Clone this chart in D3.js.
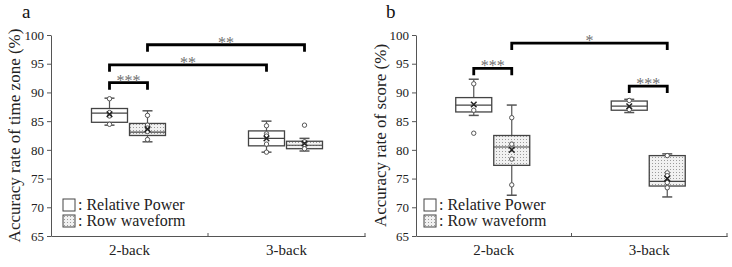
<!DOCTYPE html>
<html>
<head>
<meta charset="utf-8">
<script src="https://cdn.jsdelivr.net/npm/d3@7/dist/d3.min.js"></script>
<style>
  body { margin: 0; background: #fff; }
  svg { display: block; font-family: "Liberation Serif", "DejaVu Serif", serif; }
</style>
</head>
<body>
<div id="chart"></div>
<script>
// categories & groups (order: 2-back RP, 2-back RW, 3-back RP, 3-back RW)
const categories = ["2-back", "3-back"];
const methods = ["Relative Power", "Row waveform"];

// [whisker low, Q1, median, Q3, whisker high]
const timeZoneBoxes = [
    [84.3, 84.8, 86.4, 87.2, 89.0],
    [81.4, 82.5, 83.1, 84.6, 86.8],
    [79.6, 80.7, 82.0, 83.3, 85.0],
    [79.8, 80.2, 80.8, 81.5, 82.0]
];
const timeZoneMeans = [86.2, 83.6, 82.0, 81.1];
const timeZonePoints = [
    [88.9, 86.5, 85.9, 84.45],
    [86.0, 84.3, 83.8, 83.2, 81.8],
    [84.2, 82.8, 82.4, 81.0, 79.6],
    [84.3, 81.4, 80.9, 80.2]
];
// [from group, to group, bracket level, label]
const timeZoneSig = [[0, 1, 91.7, "***"], [0, 2, 94.8, "**"], [1, 3, 98.3, "**"]];

const scoreBoxes = [
    [86.0, 86.6, 87.8, 89.1, 92.3],
    [72.1, 77.3, 80.5, 82.5, 87.8],
    [86.5, 86.9, 87.6, 88.5, 88.8],
    [71.8, 73.7, 74.5, 79.0, 79.3]
];
const scoreMeans = [87.9, 80.0, 87.6, 75.0];
const scorePoints = [
    [91.5, 86.9, 82.9],
    [85.6, 81.0, 78.4, 73.9],
    [88.6, 87.0],
    [79.0, 76.0, 75.5, 74.3, 73.4]
];
const scoreSig = [[0, 1, 94.2, "***"], [1, 3, 98.6, "*"], [2, 3, 91.1, "***"]];

const yTicks = [65, 70, 75, 80, 85, 90, 95, 100];

const width = 732, height = 267;
const svg = d3.select("#chart").append("svg")
    .attr("width", width)
    .attr("height", height);

// dotted fill for Row waveform
const pat = svg.append("defs").append("pattern")
    .attr("id", "dots")
    .attr("width", 3).attr("height", 3)
    .attr("patternUnits", "userSpaceOnUse");
pat.append("rect").attr("width", 3).attr("height", 3).attr("fill", "#f1f1f1");
pat.append("rect").attr("x", 1).attr("y", 1).attr("width", 1).attr("height", 1).attr("fill", "#9a9a9a");

const axisColor = "#555";
const boxW = 36, capW = 10;
const methodOffset = {"Relative Power": -20, "Row waveform": 18};

const drawPanel = (cfg) => {
    const g = svg.append("g");
    const y = d3.scaleLinear().domain([65, 100]).range([236, 35]);
    const x0 = d3.scaleBand().domain(categories).range(cfg.xRange);

    const groups = [];
    categories.forEach(c => methods.forEach(m => groups.push({cat: c, method: m})));
    groups.forEach((d, i) => {
        d.cx = x0(d.cat) + x0.bandwidth() / 2 + methodOffset[d.method];
        d.stats = cfg.boxes[i];
        d.mean = cfg.means[i];
        d.points = cfg.points[i];
    });

    // y axis
    const yAxis = g.append("g")
        .attr("transform", `translate(${cfg.xRange[0]},0)`)
        .call(d3.axisLeft(y).tickValues(yTicks).tickSize(4).tickSizeOuter(0).tickPadding(3));
    yAxis.select(".domain").attr("stroke", axisColor);
    yAxis.selectAll(".tick line").attr("stroke", axisColor);
    yAxis.selectAll("text").attr("font-size", 13).attr("fill", "#222")
        .attr("font-family", "Liberation Serif, serif");

    // x axis
    const xAxis = g.append("g")
        .attr("transform", `translate(0,${y(65)})`)
        .call(d3.axisBottom(x0).tickSize(0).tickPadding(8).tickSizeOuter(0));
    xAxis.select(".domain").attr("stroke", axisColor);
    xAxis.selectAll("text").attr("font-size", 15).attr("fill", "#222")
        .attr("font-family", "Liberation Serif, serif");
    xAxis.selectAll(".sep")
        .data(categories.slice(1).map(c => x0(c)).concat([cfg.xRange[1]]))
        .enter().append("line")
        .attr("class", "sep")
        .attr("x1", d => d).attr("x2", d => d)
        .attr("y1", -3).attr("y2", 1)
        .attr("stroke", axisColor);

    // y title
    g.append("text")
        .attr("transform", `translate(${cfg.titleX},${(y(65) + y(100)) / 2}) rotate(-90)`)
        .attr("text-anchor", "middle")
        .attr("font-size", 17)
        .attr("fill", "#222")
        .text(cfg.title);

    // panel letter
    g.append("text")
        .attr("x", cfg.letterX).attr("y", 18)
        .attr("font-size", 19)
        .attr("fill", "#111")
        .text(cfg.letter);

    // boxes
    const box = g.selectAll(".box").data(groups).enter().append("g").attr("class", "box");
    box.append("line")
        .attr("x1", d => d.cx).attr("x2", d => d.cx)
        .attr("y1", d => y(d.stats[0])).attr("y2", d => y(d.stats[4]))
        .attr("stroke", axisColor).attr("stroke-width", 1.2);
    box.append("line")
        .attr("x1", d => d.cx - capW / 2).attr("x2", d => d.cx + capW / 2)
        .attr("y1", d => y(d.stats[0])).attr("y2", d => y(d.stats[0]))
        .attr("stroke", axisColor).attr("stroke-width", 1.5);
    box.append("line")
        .attr("x1", d => d.cx - capW / 2).attr("x2", d => d.cx + capW / 2)
        .attr("y1", d => y(d.stats[4])).attr("y2", d => y(d.stats[4]))
        .attr("stroke", axisColor).attr("stroke-width", 1.5);
    box.append("rect")
        .attr("x", d => d.cx - boxW / 2)
        .attr("width", boxW)
        .attr("y", d => y(d.stats[3]))
        .attr("height", d => y(d.stats[1]) - y(d.stats[3]))
        .attr("fill", d => d.method === "Row waveform" ? "url(#dots)" : "#fff")
        .attr("stroke", "#444").attr("stroke-width", 1.3);
    box.append("line")
        .attr("x1", d => d.cx - boxW / 2).attr("x2", d => d.cx + boxW / 2)
        .attr("y1", d => y(d.stats[2])).attr("y2", d => y(d.stats[2]))
        .attr("stroke", "#444").attr("stroke-width", 1.2);

    // data points
    box.selectAll("circle")
        .data(d => d.points.map(v => ({cx: d.cx, v: v})))
        .enter().append("circle")
        .attr("cx", d => d.cx).attr("cy", d => y(d.v))
        .attr("r", 2.2)
        .attr("fill", "#fff").attr("stroke", "#555").attr("stroke-width", 1);

    // mean markers
    box.append("path")
        .attr("d", d => {
            const cy = y(d.mean), s = 2.8;
            return `M${d.cx - s},${cy - s}L${d.cx + s},${cy + s}M${d.cx - s},${cy + s}L${d.cx + s},${cy - s}`;
        })
        .attr("stroke", "#222").attr("stroke-width", 1.5);

    // significance brackets
    const sig = g.selectAll(".sig").data(cfg.sig).enter().append("g").attr("class", "sig");
    sig.append("path")
        .attr("d", d => {
            const xa = groups[d[0]].cx, xb = groups[d[1]].cx, yy = y(d[2]);
            return `M${xa},${yy + 7}V${yy}H${xb}V${yy + 7}`;
        })
        .attr("fill", "none").attr("stroke", "#000").attr("stroke-width", 2.8);
    sig.append("text")
        .attr("x", d => (groups[d[0]].cx + groups[d[1]].cx) / 2)
        .attr("y", d => y(d[2]) + 3)
        .attr("text-anchor", "middle")
        .attr("font-size", 16)
        .attr("fill", "#707070")
        .text(d => d[3]);

    // legend
    const legend = g.selectAll(".legend").data(methods).enter().append("g")
        .attr("class", "legend")
        .attr("transform", (d, i) => `translate(${cfg.xRange[0] + cfg.legendDx},${199 + i * 16})`);
    legend.append("rect")
        .attr("width", 12).attr("height", 12)
        .attr("fill", d => d === "Row waveform" ? "url(#dots)" : "#fff")
        .attr("stroke", "#444").attr("stroke-width", 1);
    legend.append("text")
        .attr("x", 15).attr("y", 11)
        .attr("font-size", 16)
        .attr("fill", "#222")
        .text(d => ": " + d);
};

drawPanel({
    xRange: [51, 365], title: "Accuracy rate of time zone (%)", titleX: 20, letter: "a", letterX: 22,
    boxes: timeZoneBoxes, means: timeZoneMeans, points: timeZonePoints, sig: timeZoneSig, legendDx: 12
});
drawPanel({
    xRange: [416, 727], title: "Accuracy rate of score (%)", titleX: 386, letter: "b", letterX: 386,
    boxes: scoreBoxes, means: scoreMeans, points: scorePoints, sig: scoreSig, legendDx: 8
});
</script>
</body>
</html>
